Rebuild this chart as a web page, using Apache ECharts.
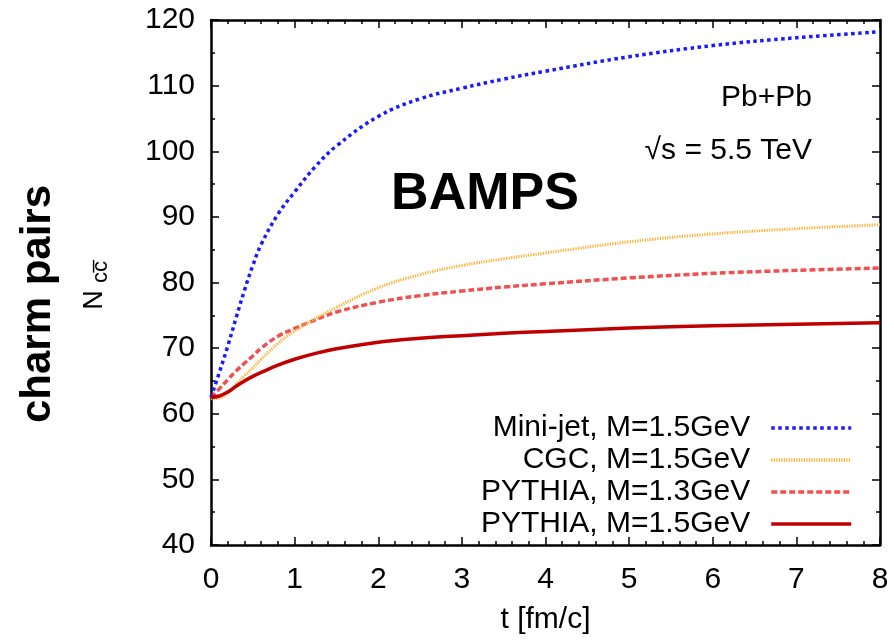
<!DOCTYPE html>
<html>
<head>
<meta charset="utf-8">
<script src="https://cdn.jsdelivr.net/npm/echarts@6/dist/echarts.min.js"></script>
<style>
    html, body { margin: 0; padding: 0; background: #fff; }
    #main { width: 894px; height: 640px; }
</style>
</head>
<body>
<div id="main"></div>
<script>
// 时间点 t [fm/c]
var tVals = [0, 0.1, 0.2, 0.3, 0.4, 0.5, 0.6, 0.8, 1.0, 1.25, 1.5, 2, 2.5, 3, 3.5, 4, 5, 6, 7, 8];

// 各曲线的粲夸克对数 N_cc̄
var miniJet = [62.5, 66.3, 70.3, 74.6, 78.8, 82.6, 85.8, 90.4, 93.8, 97.7, 100.8, 105.3, 108.0, 109.6, 111.0, 112.2, 114.4, 116.1, 117.3, 118.2];
var cgc = [62.3, 62.4, 63.2, 64.5, 65.8, 67.0, 68.3, 70.7, 72.6, 74.5, 76.2, 79.2, 81.2, 82.6, 83.6, 84.5, 86.2, 87.4, 88.2, 88.8];
var pythia13 = [62.5, 63.8, 65.2, 66.5, 67.7, 68.8, 70.0, 71.8, 73.0, 74.3, 75.5, 77.0, 78.0, 78.7, 79.3, 79.8, 80.7, 81.4, 81.85, 82.2];
var pythia15 = [62.5, 62.7, 63.3, 64.2, 65.0, 65.7, 66.3, 67.4, 68.3, 69.2, 69.9, 70.9, 71.5, 71.9, 72.25, 72.55, 73.05, 73.4, 73.65, 73.85];

var seriesNames = ['Mini-jet, M=1.5GeV', 'CGC, M=1.5GeV', 'PYTHIA, M=1.3GeV', 'PYTHIA, M=1.5GeV'];
var seriesColors = ['#1a1aff', '#ffb23c', '#f0504f', '#c00000'];

var xTicks = [0, 1, 2, 3, 4, 5, 6, 7, 8];
var yTicks = [40, 50, 60, 70, 80, 90, 100, 110, 120];

var FONT = 'Liberation Sans';
var FS = 30;

function pairs(vals) {
    return tVals.map(function (t, i) { return [t, vals[i]]; });
}

var myChart = echarts.init(document.getElementById('main'));

// 坐标轴公共样式（四边框 + 内刻度）
function axisBase(pos, min, max, interval, minorSplit, showLabel) {
    return {
        type: 'value',
        position: pos,
        min: min,
        max: max,
        interval: interval,
        axisLine: { show: true, onZero: false, lineStyle: { color: '#000', width: 2.5 } },
        axisTick: { show: true, inside: true, length: 8, lineStyle: { color: '#000', width: 1.5 } },
        minorTick: { show: true, splitNumber: minorSplit, length: 4, lineStyle: { color: '#000', width: 1.5 } },
        splitLine: { show: false },
        axisLabel: {
            show: showLabel,
            fontFamily: FONT,
            fontSize: FS,
            color: '#000'
        }
    };
}

var xBottom = axisBase('bottom', xTicks[0], xTicks[xTicks.length - 1], 1, 5, true);
xBottom.axisLabel.margin = 20;
xBottom.name = 't [fm/c]';
xBottom.nameLocation = 'middle';
xBottom.nameGap = 60;
xBottom.nameTextStyle = { fontFamily: FONT, fontSize: FS, color: '#000' };

var yLeft = axisBase('left', yTicks[0], yTicks[yTicks.length - 1], 10, 2, true);
yLeft.axisLabel.margin = 16;

function lineSeries(i, vals, width, type, z) {
    return {
        name: seriesNames[i],
        type: 'line',
        data: pairs(vals),
        symbol: 'none',
        smooth: 0.4,
        z: z,
        itemStyle: { color: seriesColors[i] },
        lineStyle: { color: seriesColors[i], width: width, type: type }
    };
}

var option = {
    animation: false,
    backgroundColor: '#fff',
    grid: { left: 211, right: 14, top: 20, bottom: 95 },
    xAxis: [xBottom, axisBase('top', 0, 8, 1, 5, false)],
    yAxis: [yLeft, axisBase('right', 40, 120, 10, 2, false)],
    legend: {
        orient: 'vertical',
        right: 36,
        top: 408,
        align: 'right',
        itemWidth: 80,
        itemHeight: 14,
        itemGap: 2,
        itemStyle: { opacity: 0 },
        lineStyle: { width: 3.5 },
        textStyle: { fontFamily: FONT, fontSize: FS, lineHeight: 28, color: '#000', padding: [0, 16, 0, 0] },
        data: seriesNames
    },
    series: [
        lineSeries(0, miniJet, 3.5, [3.5, 3.5], 4),
        lineSeries(1, cgc, 3, [1.3, 1.2], 3),
        lineSeries(2, pythia13, 3.5, [6, 3], 2),
        lineSeries(3, pythia15, 3.5, 'solid', 5)
    ],
    graphic: [
        // 纵轴标题
        {
            type: 'text',
            x: 38, y: 304,
            rotation: Math.PI / 2,
            style: { text: 'charm pairs', font: 'bold 42px "' + FONT + '"', fill: '#000', align: 'center', verticalAlign: 'middle' }
        },
        {
            type: 'text',
            x: 95, y: 300,
            rotation: Math.PI / 2,
            style: { text: 'N', font: '27px "' + FONT + '"', fill: '#000', align: 'center', verticalAlign: 'middle' }
        },
        {
            type: 'text',
            x: 101, y: 272,
            rotation: Math.PI / 2,
            style: { text: 'cc\u0305', font: '22px "' + FONT + '"', fill: '#000', align: 'center', verticalAlign: 'middle' }
        },
        // 图中标注
        {
            type: 'text',
            x: 485, y: 195,
            style: { text: 'BAMPS', font: 'bold 52px "' + FONT + '"', fill: '#000', align: 'center', verticalAlign: 'middle' }
        },
        {
            type: 'text',
            x: 812, y: 98,
            style: { text: 'Pb+Pb', font: FS + 'px "' + FONT + '"', fill: '#000', align: 'right', verticalAlign: 'middle' }
        },
        {
            type: 'text',
            x: 812, y: 151,
            style: { text: '\u221As = 5.5 TeV', font: FS + 'px "' + FONT + '"', fill: '#000', align: 'right', verticalAlign: 'middle' }
        }
    ]
};

myChart.setOption(option);
</script>
</body>
</html>
